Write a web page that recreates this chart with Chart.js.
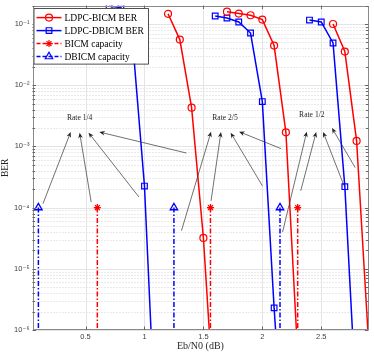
<!DOCTYPE html>
<html>
<head>
<meta charset="utf-8">
<script src="https://cdn.jsdelivr.net/npm/chart.js@4.4.1/dist/chart.umd.min.js"></script>
<style>
    html, body { margin: 0; padding: 0; background: #fff; }
    #wrap { width: 374px; height: 357px; }
</style>
</head>
<body>
<div id="wrap"><canvas id="chart"></canvas></div>
<script>
// Eb/N0 (dB) vs BER, one group per code rate: 1/4, 2/5, 1/2
const bicmBerX = [
    [1.2, 1.3, 1.4, 1.5, 1.6],
    [1.7, 1.8, 1.9, 2.0, 2.1, 2.2, 2.3],
    [2.6, 2.7, 2.8, 2.9],
];
const bicmBerY = [
    [0.147, 0.0557, 0.0043, 3.2e-5, 3e-8],
    [0.159, 0.148, 0.139, 0.118, 0.0445, 0.0017, 4e-7],
    [0.1, 0.0355, 0.00123, 7e-7],
];
const dbicmBerX = [
    [0.7, 0.8, 0.9, 1.0, 1.1],
    [1.6, 1.7, 1.8, 1.9, 2.0, 2.1, 2.2],
    [2.4, 2.5, 2.6, 2.7, 2.8],
];
const dbicmBerY = [
    [0.196, 0.187, 0.05, 2.25e-4, 1.3e-8],
    [0.135, 0.125, 0.108, 0.0713, 0.0054, 2.3e-6, 3e-9],
    [0.116, 0.108, 0.049, 2.2e-4, 5e-8],
];

// capacity limits (Eb/N0 at the target BER)
const bicmCapX = [0.6, 1.56, 2.3];
const dbicmCapX = [0.1, 1.25, 2.15];
const capBer = 1e-4;

const seriesNames = ['LDPC-BICM BER', 'LDPC-DBICM BER', 'BICM capacity', 'DBICM capacity'];

// axes
const xMin = 0.05, xMax = 2.9;
const yMin = 1e-6, yMax = 0.2;
const xTicks = [0.5, 1, 1.5, 2, 2.5];
const yDecades = [-6, -5, -4, -3, -2, -1];

// text + arrows, in data coordinates
const rateLabels = ['Rate 1/4', 'Rate 2/5', 'Rate 1/2'];
const rateLabelX = [0.45, 1.683, 2.42];
const rateLabelY = [2.9e-3, 2.9e-3, 3.26e-3];
const arrows = [
    // [tailX, tailY, headX, headY]
    [0.139, 1.16e-4, 0.374, 1.72e-3],
    [0.548, 1.23e-4, 0.450, 1.68e-3],
    [0.953, 1.49e-4, 0.525, 1.68e-3],
    [1.356, 7.8e-4, 0.617, 1.72e-3],
    [1.314, 4.2e-5, 1.565, 1.74e-3],
    [1.565, 1.29e-4, 1.649, 1.72e-3],
    [2.0, 2.28e-4, 1.731, 1.68e-3],
    [2.159, 9.2e-4, 1.803, 1.74e-3],
    [2.172, 4.0e-5, 2.377, 1.74e-3],
    [2.326, 1.88e-4, 2.457, 1.72e-3],
    [2.693, 2.28e-4, 2.516, 1.72e-3],
    [2.788, 4.5e-4, 2.591, 2.0e-3],
];

const RED = '#ff0000';
const BLUE = '#0000ff';
const SERIF = '"Liberation Serif", "Times New Roman", serif';
const capDash = [5, 2, 1.5, 2];

function berSets(label, xs, ys, color, style, radius) {
    return xs.map((grp, g) => ({
        label: label,
        data: grp.map((x, i) => ({ x: x, y: ys[g][i] })),
        borderColor: color,
        borderWidth: 1.5,
        fill: false,
        tension: 0,
        pointStyle: style,
        pointRadius: radius,
        pointBorderWidth: 1.2,
        pointBorderColor: color,
        pointBackgroundColor: 'rgba(0,0,0,0)',
    }));
}

function capSets(label, xs, color, style, radius) {
    return xs.map(x => ({
        label: label,
        data: [{ x: x, y: capBer }, { x: x, y: yMin }],
        borderColor: color,
        borderWidth: 1.5,
        borderDash: capDash,
        fill: false,
        pointStyle: style,
        pointRadius: [radius, 0],
        pointBorderWidth: 1.3,
        pointBorderColor: color,
        pointBackgroundColor: 'rgba(0,0,0,0)',
    }));
}

const datasets = [
    ...berSets(seriesNames[0], bicmBerX, bicmBerY, RED, 'circle', 3.5),
    ...berSets(seriesNames[1], dbicmBerX, dbicmBerY, BLUE, 'rect', 4),
    ...capSets(seriesNames[2], bicmCapX, RED, 'star', 3.5),
    ...capSets(seriesNames[3], dbicmCapX, BLUE, 'triangle', 4.3),
];

const SUP = { '-': '\u207B', '0': '\u2070', '1': '\u00B9', '2': '\u00B2', '3': '\u00B3',
    '4': '\u2074', '5': '\u2075', '6': '\u2076', '7': '\u2077', '8': '\u2078', '9': '\u2079' };
function powLabel(e) {
    return '10' + String(e).split('').map(c => SUP[c]).join('');
}

function hline(ctx, x1, x2, y) {
    ctx.beginPath(); ctx.moveTo(x1, y); ctx.lineTo(x2, y); ctx.stroke();
}
function vline(ctx, x, y1, y2) {
    ctx.beginPath(); ctx.moveTo(x, y1); ctx.lineTo(x, y2); ctx.stroke();
}

function drawArrow(ctx, x1, y1, x2, y2) {
    const ang = Math.atan2(y2 - y1, x2 - x1);
    const len = 5.5, half = 2.3;
    ctx.beginPath();
    ctx.moveTo(x1, y1);
    ctx.lineTo(x2 - Math.cos(ang) * len * 0.6, y2 - Math.sin(ang) * len * 0.6);
    ctx.stroke();
    ctx.save();
    ctx.translate(x2, y2);
    ctx.rotate(ang);
    ctx.beginPath();
    ctx.moveTo(0, 0);
    ctx.lineTo(-len, -half);
    ctx.lineTo(-len * 0.7, 0);
    ctx.lineTo(-len, half);
    ctx.closePath();
    ctx.fill();
    ctx.restore();
}

const overlay = {
    id: 'overlay',
    beforeDatasetsDraw(chart) {
        const { ctx, chartArea: a, scales: { x, y } } = chart;
        ctx.save();
        ctx.lineWidth = 1;
        // minor grid, dotted
        ctx.strokeStyle = '#d4d4d4';
        ctx.setLineDash([1, 2]);
        y.ticks.forEach(t => {
            if (t.major) return;
            hline(ctx, a.left, a.right, Math.round(y.getPixelForValue(t.value)) + 0.5);
        });
        ctx.setLineDash([]);
        ctx.strokeStyle = '#e4e4e4';
        y.ticks.forEach(t => {
            if (!t.major) return;
            hline(ctx, a.left, a.right, Math.round(y.getPixelForValue(t.value)) + 0.5);
        });
        x.ticks.forEach(t => {
            vline(ctx, Math.round(x.getPixelForValue(t.value)) + 0.5, a.top, a.bottom);
        });
        ctx.restore();
    },
    afterDatasetsDraw(chart) {
        const { ctx, scales: { x, y } } = chart;
        ctx.save();
        ctx.strokeStyle = '#333';
        ctx.fillStyle = '#222';
        ctx.lineWidth = 0.7;
        arrows.forEach(ar => {
            drawArrow(ctx, x.getPixelForValue(ar[0]), y.getPixelForValue(ar[1]),
                x.getPixelForValue(ar[2]), y.getPixelForValue(ar[3]));
        });
        ctx.fillStyle = '#262626';
        ctx.font = '7.6px ' + SERIF;
        ctx.textAlign = 'center';
        ctx.textBaseline = 'middle';
        rateLabels.forEach((t, i) => {
            ctx.fillText(t, x.getPixelForValue(rateLabelX[i]), y.getPixelForValue(rateLabelY[i]));
        });
        ctx.restore();
    },
    afterDraw(chart) {
        const { ctx, chartArea: a, scales: { x, y } } = chart;
        ctx.save();
        // box + inward ticks
        ctx.strokeStyle = '#8a8a8a';
        ctx.lineWidth = 1;
        ctx.strokeRect(Math.round(a.left) + 0.5, Math.round(a.top) + 0.5,
            Math.round(a.right - a.left) - 1, Math.round(a.bottom - a.top) - 1);
        ctx.strokeStyle = '#666';
        y.ticks.forEach(t => {
            const py = Math.round(y.getPixelForValue(t.value)) + 0.5;
            const len = t.major ? 3.5 : 2.5;
            hline(ctx, a.left, a.left + len, py);
            hline(ctx, a.right - len, a.right, py);
        });
        x.ticks.forEach(t => {
            const px = Math.round(x.getPixelForValue(t.value)) + 0.5;
            vline(ctx, px, a.bottom, a.bottom - 3.5);
            vline(ctx, px, a.top, a.top + 3.5);
        });

        // legend inside the axes, top left
        const lx = a.left + 1, ly = a.top + 2.5, lw = 114.5, lh = 55.5;
        ctx.fillStyle = '#fff';
        ctx.fillRect(lx, ly, lw, lh);
        ctx.strokeStyle = '#262626';
        ctx.lineWidth = 0.8;
        ctx.strokeRect(lx + 0.5, ly + 0.5, lw, lh);
        const seen = [];
        chart.data.datasets.forEach(ds => {
            if (seen.indexOf(ds.label) >= 0) return;
            seen.push(ds.label);
            const i = seen.length - 1;
            const ry = ly + 9.5 + i * 13;
            ctx.strokeStyle = ds.borderColor;
            ctx.lineWidth = 1.5;
            ctx.setLineDash(ds.borderDash ? [4, 2] : []);
            hline(ctx, lx + 3, lx + 28, ry);
            ctx.setLineDash([]);
            ctx.lineWidth = 1.2;
            ctx.fillStyle = 'rgba(0,0,0,0)';
            const r = Array.isArray(ds.pointRadius) ? ds.pointRadius[0] : ds.pointRadius;
            Chart.helpers.drawPoint(ctx, { pointStyle: ds.pointStyle, radius: r, rotation: 0, borderWidth: 1.2 }, lx + 15.5, ry);
            ctx.fillStyle = '#000';
            ctx.font = '9.5px ' + SERIF;
            ctx.textAlign = 'left';
            ctx.textBaseline = 'middle';
            ctx.fillText(ds.label, lx + 31, ry + 0.5);
        });
        ctx.restore();
    },
};

new Chart(document.getElementById('chart'), {
    type: 'line',
    data: { datasets: datasets },
    options: {
        responsive: true,
        maintainAspectRatio: false,
        animation: false,
        events: [],
        layout: { padding: { top: 3, right: 2, left: 0, bottom: 0 } },
        plugins: {
            legend: { display: false },
            tooltip: { enabled: false },
        },
        scales: {
            x: {
                type: 'linear',
                min: xMin,
                max: xMax,
                afterBuildTicks: s => { s.ticks = xTicks.map(v => ({ value: v })); },
                afterFit: s => { s.height = 27; s.paddingLeft = 0; s.paddingRight = 0; },
                grid: { display: false, drawTicks: false },
                border: { display: false },
                ticks: {
                    autoSkip: false,
                    maxRotation: 0,
                    padding: 2,
                    color: '#404040',
                    font: { family: '"Liberation Sans", Arial, sans-serif', size: 7.5 },
                    callback: v => String(v),
                },
                title: {
                    display: true,
                    text: 'Eb/N0 (dB)',
                    color: '#262626',
                    font: { family: SERIF, size: 10 },
                    padding: { top: 0, bottom: 5 },
                },
            },
            y: {
                type: 'logarithmic',
                min: yMin,
                max: yMax,
                afterBuildTicks: s => {
                    const t = [];
                    yDecades.forEach(e => {
                        for (let m = 1; m <= 9; m++) {
                            const v = m * Math.pow(10, e);
                            if (v <= yMax * 1.0001) t.push({ value: v, major: m === 1 });
                        }
                    });
                    s.ticks = t;
                },
                afterFit: s => { s.width = 32.5; s.paddingTop = 0; s.paddingBottom = 0; },
                grid: { display: false, drawTicks: false },
                border: { display: false },
                ticks: {
                    autoSkip: false,
                    padding: 3,
                    color: '#404040',
                    font: { family: '"Liberation Sans", "DejaVu Sans", Arial, sans-serif', size: 7.5 },
                    callback: function (v, i, ticks) {
                        return ticks[i].major ? powLabel(Math.round(Math.log10(v))) : '';
                    },
                },
                title: {
                    display: true,
                    text: 'BER',
                    color: '#262626',
                    font: { family: SERIF, size: 9.5 },
                    padding: { top: 0, bottom: 0 },
                },
            },
        },
    },
    plugins: [overlay],
});
</script>
</body>
</html>
